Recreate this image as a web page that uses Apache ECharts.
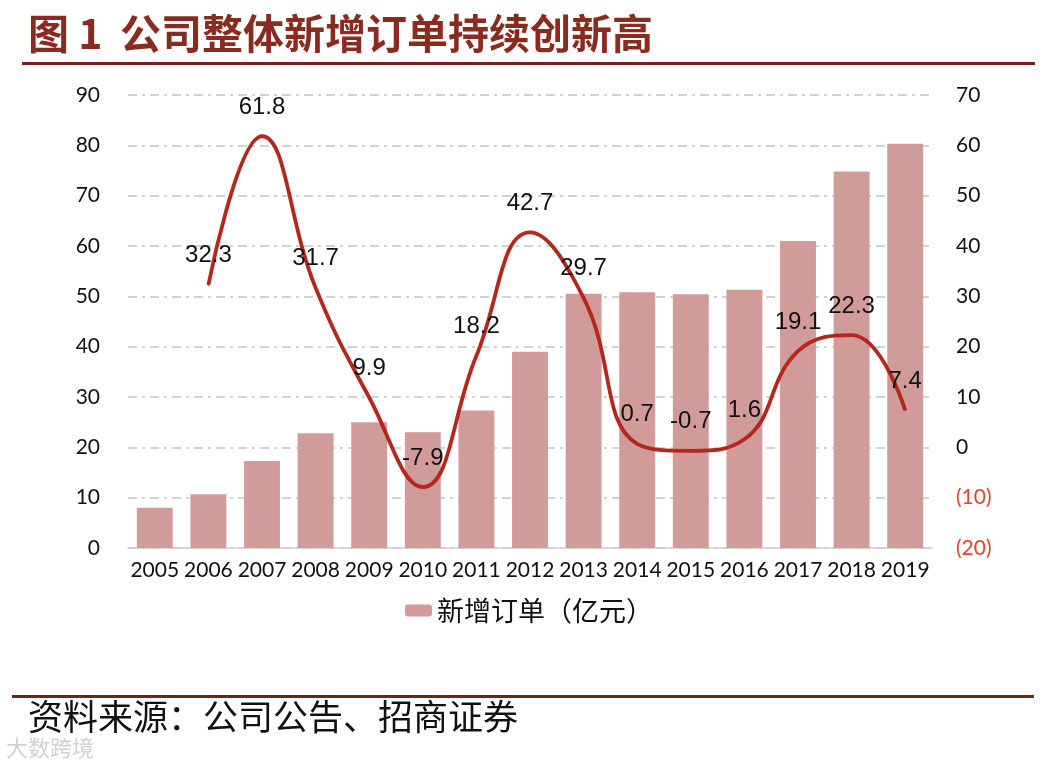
<!DOCTYPE html>
<html>
<head>
<meta charset="utf-8">
<script src="https://cdn.jsdelivr.net/npm/echarts@6/dist/echarts.min.js"></script>
<style>
  html, body { margin: 0; padding: 0; background: #fff; }
  #chart { width: 1056px; height: 770px; }
</style>
</head>
<body>
<div id="chart"></div>
<script>
  // datos
  const years = ["2005", "2006", "2007", "2008", "2009", "2010", "2011", "2012",
    "2013", "2014", "2015", "2016", "2017", "2018", "2019"];
  const newOrders = [8.0, 10.7, 17.3, 22.8, 25.0, 23.0, 27.3, 39.0,
    50.5, 50.8, 50.4, 51.3, 61.0, 74.8, 80.3];
  const growthRate = [null, 32.3, 61.8, 31.7, 9.9, -7.9, 18.2, 42.7,
    29.7, 0.7, -0.7, 1.6, 19.1, 22.3, 7.4];

  const titleNo = "图 1";
  const titleText = "公司整体新增订单持续创新高";
  const sourceText = "资料来源：公司公告、招商证券";
  const legendName = "新增订单（亿元）";

  const darkRed = "#8a2b1f";
  const lineRed = "#b3271d";
  const gridLine = {
    show: true,
    lineStyle: { color: "#c4c4c4", width: 1.5, type: [9, 5, 3, 5] },
  };

  const chart = echarts.init(document.getElementById("chart"));

  chart.setOption({
    animation: false,
    backgroundColor: "#fff",
    grid: { left: 128, right: 124, top: 95, bottom: 222 },
    legend: {
      data: [legendName],
      bottom: 141,
      left: 400,
      itemWidth: 27,
      itemHeight: 12,
      itemGap: 6,
      textStyle: { fontFamily: "Noto Sans CJK SC", fontSize: 27, color: "#111" },
    },
    xAxis: {
      type: "category",
      data: years,
      axisTick: { show: false },
      axisLine: { lineStyle: { color: "#d0d0d0", width: 1.5 } },
      axisLabel: {
        fontFamily: "Lato", fontSize: 21, color: "#111", margin: 12, interval: 0,
      },
    },
    yAxis: [
      {
        type: "value",
        min: 0, max: 90, interval: 10,
        axisLine: { show: false },
        axisTick: { show: false },
        splitLine: gridLine,
        axisLabel: { fontFamily: "Lato", fontSize: 21, color: "#111", margin: 28 },
      },
      {
        type: "value",
        min: -20, max: 70, interval: 10,
        axisLine: { show: false },
        axisTick: { show: false },
        splitLine: { show: false },
        axisLabel: {
          fontFamily: "Lato", fontSize: 21, margin: 24,
          formatter: (v) => (v < 0 ? "{neg|(" + Math.abs(v) + ")}" : "{pos|" + v + "}"),
          rich: {
            neg: { color: "#e0442e", fontFamily: "Lato", fontSize: 21 },
            pos: { color: "#111", fontFamily: "Lato", fontSize: 21 },
          },
        },
      },
    ],
    series: [
      {
        name: legendName,
        type: "bar",
        data: newOrders,
        barCategoryGap: "33%",
        itemStyle: { color: "#d09b98" },
      },
      {
        name: "增速",
        type: "line",
        yAxisIndex: 1,
        data: growthRate,
        smooth: 0.45,
        showSymbol: true,
        showAllSymbol: true,
        symbol: "circle",
        symbolSize: 2,
        itemStyle: { color: lineRed },
        lineStyle: { color: lineRed, width: 3.8 },
        label: {
          show: true,
          position: "top",
          distance: 16,
          fontFamily: "Liberation Sans",
          fontSize: 24,
          color: "#111",
        },
        labelLayout: { hideOverlap: false },
        z: 3,
      },
    ],
    graphic: [
      {
        type: "text",
        left: 28, top: 13,
        style: {
          text: titleNo,
          font: "bold 41px 'Noto Sans CJK SC'",
          fill: darkRed,
        },
      },
      {
        type: "text",
        left: 120, top: 13,
        style: {
          text: titleText,
          font: "bold 41px 'Noto Sans CJK SC'",
          fill: darkRed,
        },
      },
      {
        type: "rect",
        shape: { x: 22, y: 62, width: 1013, height: 3 },
        style: { fill: "#7a1f1a" },
      },
      {
        type: "rect",
        shape: { x: 12, y: 695, width: 1022, height: 3 },
        style: { fill: "#7a1f1a" },
      },
      {
        type: "text",
        left: 28, top: 699,
        style: {
          text: sourceText,
          font: "35px 'Noto Sans CJK SC'",
          fill: "#111",
        },
      },
      {
        type: "text",
        left: 6, top: 737,
        style: {
          text: "大数跨境",
          font: "22px 'Noto Sans CJK SC'",
          fill: "rgba(190,190,190,0.7)",
        },
      },
    ],
  });
</script>
</body>
</html>
